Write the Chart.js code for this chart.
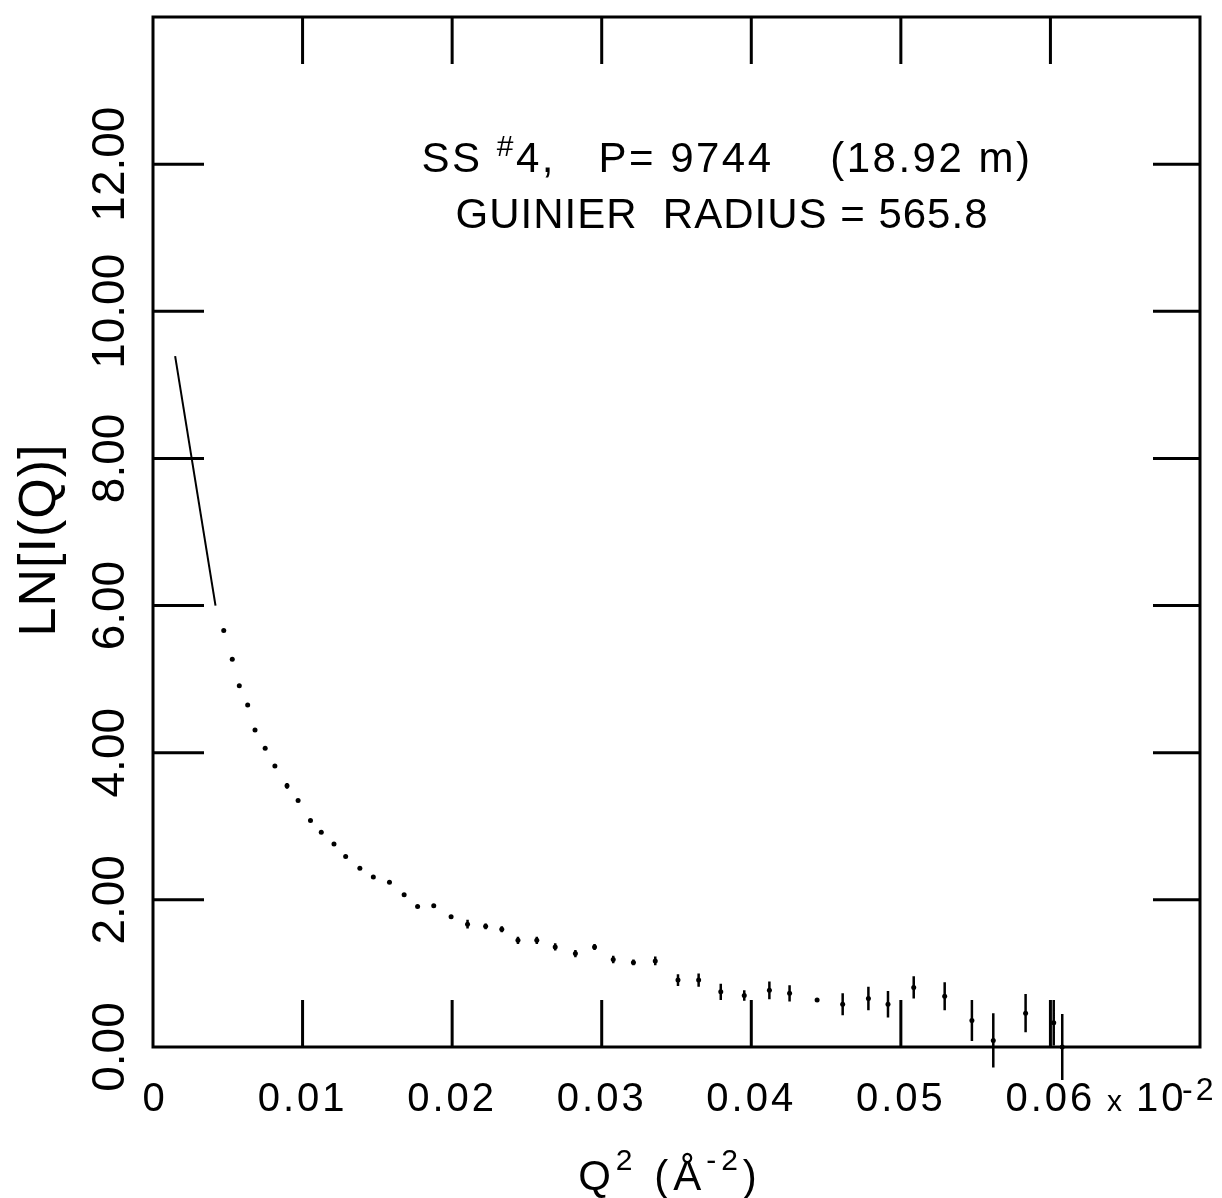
<!DOCTYPE html>
<html>
<head>
<meta charset="utf-8">
<script src="https://cdn.jsdelivr.net/npm/chart.js@4.4.0/dist/chart.umd.min.js"></script>
<style>
  html, body { margin: 0; padding: 0; background: #fff; }
  canvas { display: block; }
</style>
</head>
<body>
<canvas id="myChart" width="1222" height="1198"></canvas>
<script>
// Guinier fit line (start / end)
const fitQ2 = [0.00148, 0.00418];
const fitLnI = [9.39, 6.00];

// measured points: Q^2, ln I(Q), error half-height
const q2 = [0.00473, 0.00530, 0.00577, 0.00633, 0.00682, 0.00750, 0.00815, 0.00896, 0.00970, 0.01053,
            0.01125, 0.01210, 0.01288, 0.01383, 0.01473, 0.01581, 0.01679, 0.01769, 0.01877, 0.01993,
            0.02103, 0.02224, 0.02332, 0.02440, 0.02566, 0.02689, 0.02824, 0.02952, 0.03077, 0.03212,
            0.03358, 0.03510, 0.03648, 0.03796, 0.03953, 0.04121, 0.04256, 0.04440, 0.04611, 0.04783,
            0.04914, 0.05086, 0.05293, 0.05475, 0.05618, 0.05834, 0.06022, 0.06079];
const lnI = [5.66, 5.27, 4.91, 4.65, 4.31, 4.06, 3.82, 3.55, 3.35, 3.08,
             2.92, 2.76, 2.59, 2.43, 2.31, 2.24, 2.07, 1.91, 1.92, 1.77,
             1.67, 1.64, 1.60, 1.45, 1.45, 1.36, 1.27, 1.36, 1.19, 1.15,
             1.17, 0.91, 0.91, 0.75, 0.70, 0.77, 0.73, 0.64, 0.58, 0.66,
             0.58, 0.81, 0.69, 0.36, 0.09, 0.46, 0.33, 0.00];
const lnIErr = [0, 0, 0, 0, 0, 0, 0, 0.04, 0, 0,
                0, 0, 0, 0, 0, 0, 0, 0, 0, 0,
                0.06, 0.04, 0.04, 0.05, 0.05, 0.05, 0.05, 0.04, 0.05, 0.04,
                0.06, 0.08, 0.09, 0.11, 0.07, 0.12, 0.11, 0, 0.15, 0.16,
                0.18, 0.15, 0.19, 0.28, 0.37, 0.26, 0.31, 0.45];

const xTicks = [0, 0.01, 0.02, 0.03, 0.04, 0.05, 0.06];
const xTickLabels = ['0', '0.01', '0.02', '0.03', '0.04', '0.05', '0.06'];
const yTicks = [0, 2, 4, 6, 8, 10, 12];
const yTickLabels = ['0.00', '2.00', '4.00', '6.00', '8.00', '10.00', '12.00'];

const FONT = '"Liberation Sans", Arial, sans-serif';
const TICK_LEN = 47;

// draws text pieces in a row (superscripts via "up"), centred on cx
function drawPieces(ctx, pieces, cx, baseline, spacing) {
    ctx.letterSpacing = (spacing || 0) + 'px';
    let total = 0;
    pieces.forEach(p => { ctx.font = p.size + 'px ' + FONT; p.w = ctx.measureText(p.t).width; total += p.w; });
    let xPos = cx - total / 2;
    ctx.textAlign = 'left';
    ctx.textBaseline = 'alphabetic';
    pieces.forEach(p => {
        ctx.font = p.size + 'px ' + FONT;
        ctx.fillText(p.t, xPos, baseline - (p.up || 0));
        xPos += p.w;
    });
    ctx.letterSpacing = '0px';
}

const framePlugin = {
    id: 'framePlugin',
    afterDatasetsDraw(chart) {
        const { ctx, chartArea: a, scales: { x, y } } = chart;
        ctx.save();
        ctx.strokeStyle = '#000';
        ctx.fillStyle = '#000';
        ctx.lineWidth = 3;
        ctx.strokeRect(a.left, a.top, a.right - a.left, a.bottom - a.top);

        // inward ticks on all four sides
        ctx.beginPath();
        xTicks.forEach(v => {
            if (v === 0) return;
            const px = x.getPixelForValue(v);
            ctx.moveTo(px, a.bottom); ctx.lineTo(px, a.bottom - TICK_LEN);
            ctx.moveTo(px, a.top); ctx.lineTo(px, a.top + TICK_LEN);
        });
        yTicks.forEach(v => {
            if (v === 0) return;
            const py = y.getPixelForValue(v);
            ctx.moveTo(a.left, py); ctx.lineTo(a.left + TICK_LEN + 4, py);
            ctx.moveTo(a.right, py); ctx.lineTo(a.right - TICK_LEN, py);
        });
        ctx.stroke();

        // error bars
        ctx.lineWidth = 2.5;
        ctx.beginPath();
        q2.forEach((v, i) => {
            if (!lnIErr[i]) return;
            const px = x.getPixelForValue(v);
            ctx.moveTo(px, y.getPixelForValue(lnI[i] + lnIErr[i]));
            ctx.lineTo(px, y.getPixelForValue(lnI[i] - lnIErr[i]));
        });
        ctx.stroke();

        // x tick labels
        xTicks.forEach((v, i) => {
            drawPieces(ctx, [{ t: xTickLabels[i], size: 40 }], x.getPixelForValue(v) + (i === 0 ? 2 : 0), 1111, 3);
        });
        ctx.textAlign = 'left';
        ctx.font = '30px ' + FONT;
        ctx.fillText('x', 1107, 1111);
        ctx.letterSpacing = '3px';
        ctx.font = '40px ' + FONT;
        ctx.fillText('10', 1136, 1111);
        ctx.font = '32px ' + FONT;
        ctx.fillText('-2', 1182, 1100);
        ctx.letterSpacing = '0px';

        // y tick labels (rotated)
        yTicks.forEach((v, i) => {
            ctx.save();
            ctx.translate(111, y.getPixelForValue(v));
            ctx.rotate(-Math.PI / 2);
            ctx.font = '46px ' + FONT;
            ctx.textAlign = 'center';
            ctx.textBaseline = 'middle';
            ctx.fillText(yTickLabels[i], 0, 0);
            ctx.restore();
        });

        // y title
        ctx.save();
        ctx.translate(41, 540);
        ctx.rotate(-Math.PI / 2);
        ctx.font = '52px ' + FONT;
        ctx.letterSpacing = '1px';
        ctx.textAlign = 'center';
        ctx.textBaseline = 'middle';
        ctx.fillText('LN[I(Q)]', 0, 0);
        ctx.restore();

        // x title
        drawPieces(ctx, [
            { t: 'Q', size: 42 },
            { t: '2', size: 30, up: 20 },
            { t: ' (Å', size: 42 },
            { t: '-2', size: 30, up: 20 },
            { t: ')', size: 42 }
        ], 670, 1190, 5);

        // annotation
        drawPieces(ctx, [
            { t: 'SS ', size: 42 },
            { t: '#', size: 30, up: 16 },
            { t: '4,   P= 9744    (18.92 m)', size: 42 }
        ], 727, 172, 2.5);
        drawPieces(ctx, [{ t: 'GUINIER  RADIUS = 565.8', size: 42 }], 722, 228, 1);

        ctx.restore();
    }
};

const ctx = document.getElementById('myChart').getContext('2d');
const myChart = new Chart(ctx, {
    type: 'scatter',
    data: {
        datasets: [
            {
                label: 'fit',
                data: fitQ2.map((v, i) => ({ x: v, y: fitLnI[i] })),
                showLine: true,
                borderColor: '#000',
                borderWidth: 2,
                pointRadius: 0,
                clip: false
            },
            {
                label: 'data',
                data: q2.map((v, i) => ({ x: v, y: lnI[i] })),
                backgroundColor: '#000',
                borderColor: '#000',
                pointRadius: 2.5,
                borderWidth: 0,
                clip: false
            }
        ]
    },
    options: {
        responsive: false,
        animation: false,
        layout: { padding: { left: 153, right: 22, top: 17, bottom: 151 } },
        plugins: { legend: { display: false }, tooltip: { enabled: false } },
        scales: {
            x: { type: 'linear', min: 0, max: 0.07, display: false },
            y: { type: 'linear', min: 0, max: 14, display: false }
        }
    },
    plugins: [framePlugin]
});
</script>
</body>
</html>
